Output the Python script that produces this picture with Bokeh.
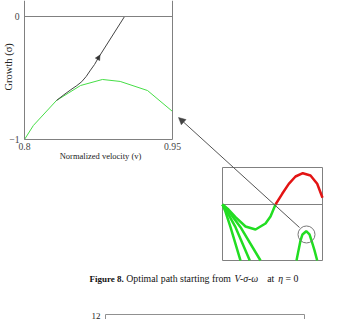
import math
from bokeh.plotting import figure
from bokeh.models import Range1d, LinearAxis, FixedTicker, Label, Arrow, NormalHead
from bokeh.embed import file_html
from bokeh.resources import INLINE

# ---------------- data (main chart) ----------------
v_ticks = [0.8, 0.95]
s_ticks = [-1, 0]
x_title = "Normalized velocity (v)"
y_title = "Growth  (\u03c3)"
green_v = [0.800, 0.809, 0.8324, 0.8446, 0.8568, 0.879, 0.897, 0.9247, 0.950]
green_s = [-1.000, -0.886, -0.683, -0.622, -0.561, -0.512, -0.528, -0.602, -0.772]
path_v = [0.8324, 0.8400, 0.8470, 0.8530, 0.8580, 0.8625, 0.8669, 0.8710, 0.8750, 0.9014]
path_s = [-0.683, -0.636, -0.595, -0.562, -0.530, -0.488, -0.436, -0.390, -0.334, 0.000]

# ---------------- data (inset, normalised units) ----------------
red_x = [0.53, 0.597, 0.663, 0.73, 0.803, 0.88, 0.947, 1.0]
red_y = [0.0, 0.289, 0.559, 0.757, 0.846, 0.784, 0.559, 0.181]
gmain_x = [0.0, 0.06, 0.13, 0.23, 0.33, 0.43, 0.48, 0.53]
gmain_y = [0.0, -0.135, -0.343, -0.595, -0.676, -0.514, -0.324, 0.0]
fan_x = [[0.0, 0.03, 0.08, 0.18], [0.0, 0.04, 0.13, 0.273], [0.0, 0.05, 0.18, 0.38]]
fan_y = [[0.0, -0.20, -0.613, -1.514], [0.0, -0.17, -0.613, -1.514], [0.0, -0.14, -0.613, -1.514]]
bump_x = [0.74, 0.76, 0.78, 0.80, 0.837, 0.87, 0.89, 0.92, 0.947]
bump_y = [-1.514, -1.24, -0.973, -0.81, -0.722, -0.81, -0.973, -1.24, -1.514]
circle_x = [0.84]
circle_y = [-0.81]

# ---------------- layout constants (pixels) ----------------
W, H = 340, 319
MX0, MX1 = 24, 172      # px of v = 0.8 / 0.95
MY0, MY1 = 16, 139      # px of s = 0 / -1
IX0, IX1 = 222, 322     # inset box px
IZERO, ITOP, IBOT = 204, 167, 260

V_MIN, V_MAX = 0.8, 0.95
S_MIN, S_MAX = -1.0, 0.0
sx = (MX1 - MX0) / (V_MAX - V_MIN)
sy = (MY1 - MY0) / (S_MAX - S_MIN)

isx = (IX1 - IX0) / 1.0
isy = (IZERO - ITOP) / 1.0
INS_YMIN = -(IBOT - IZERO) / isy

p = figure(width=W, height=H,
           x_range=Range1d(V_MIN - MX0 / sx, V_MIN + (W - MX0) / sx),
           y_range=Range1d(S_MAX - (H - MY0) / sy, S_MAX + MY0 / sy),
           output_backend="svg", toolbar_location=None,
           x_axis_location=None, y_axis_location=None,
           min_border=0, min_border_left=0, min_border_right=0,
           min_border_top=0, min_border_bottom=0,
           outline_line_color=None, background_fill_color="white",
           border_fill_color="white")
p.grid.visible = False

p.extra_x_ranges = {"ix": Range1d(-IX0 / isx, (W - IX0) / isx),
                    "px": Range1d(0, W)}
p.extra_y_ranges = {"iy": Range1d(-(H - IZERO) / isy, IZERO / isy),
                    "px": Range1d(H, 0)}

FONT = "Liberation Serif"
BORDER = "#808080"

def bare_axis(ax):
    ax.major_tick_out = 0
    ax.major_tick_in = 0
    ax.minor_tick_out = 0
    ax.minor_tick_in = 0
    ax.axis_line_color = BORDER
    ax.axis_line_width = 1
    return ax

# left axis (frame left edge)
yax = bare_axis(LinearAxis(fixed_location=V_MIN, bounds=(S_MIN, 0.2),
                           ticker=FixedTicker(ticks=s_ticks, minor_ticks=[]),
                           major_label_overrides={-1: "\u22121", 0: "0"}))
yax.major_label_text_font = FONT
yax.major_label_text_font_size = "9.7px"
yax.major_label_standoff = 5
p.add_layout(yax, "left")

# right edge
rax = bare_axis(LinearAxis(fixed_location=V_MAX, bounds=(S_MIN, 0.2),
                           ticker=FixedTicker(ticks=[], minor_ticks=[])))
rax.major_label_text_alpha = 0
p.add_layout(rax, "right")

# bottom axis
xax = bare_axis(LinearAxis(fixed_location=S_MIN, bounds=(V_MIN, V_MAX),
                           ticker=FixedTicker(ticks=v_ticks, minor_ticks=[]),
                           major_label_overrides={0.8: "0.8", 0.95: "0.95"}))
xax.major_label_text_font = FONT
xax.major_label_text_font_size = "9.7px"
xax.major_label_standoff = 3
p.add_layout(xax, "below")

# zero line
zax = bare_axis(LinearAxis(fixed_location=0, bounds=(V_MIN, V_MAX),
                           ticker=FixedTicker(ticks=[], minor_ticks=[])))
zax.major_label_text_alpha = 0
p.add_layout(zax, "below")

# axis titles (placed in pixel layout)
p.add_layout(Label(x=100, y=155, text=x_title, text_font=FONT, text_font_size="8.5px",
                   text_color="#222222", text_align="center", text_baseline="middle",
                   x_range_name="px", y_range_name="px"))
p.add_layout(Label(x=8, y=65, text=y_title, text_font=FONT, text_font_size="10.5px",
                   text_color="#222222", text_align="center", text_baseline="middle",
                   angle=math.pi / 2, x_range_name="px", y_range_name="px"))

# main curves
p.line(green_v, green_s, line_color="#46de46", line_width=1)
p.line(path_v, path_s, line_color="#444444", line_width=1)
p.add_layout(Arrow(end=NormalHead(size=5, fill_color="#333333", line_color="#333333", line_width=0.5),
                   x_start=path_v[-2], y_start=path_s[-2],
                   x_end=path_v[-2] + 0.0015, y_end=path_s[-2] + 0.021,
                   line_alpha=0))

# inset
p.quad(left=[0.0], right=[1.0], bottom=[INS_YMIN], top=[1.0],
       fill_color=None, line_color=BORDER, line_width=1,
       x_range_name="ix", y_range_name="iy")
p.segment(x0=[0.0], y0=[0.0], x1=[1.0], y1=[0.0], line_color=BORDER, line_width=1,
          x_range_name="ix", y_range_name="iy")
p.line(red_x, red_y, line_color="#e31414", line_width=2.5, x_range_name="ix", y_range_name="iy")
p.line(gmain_x, gmain_y, line_color="#22dd22", line_width=2.5, x_range_name="ix", y_range_name="iy")
p.multi_line(fan_x, fan_y, line_color="#22dd22", line_width=2.5, x_range_name="ix", y_range_name="iy")
p.line(bump_x, bump_y, line_color="#22dd22", line_width=2.5, x_range_name="ix", y_range_name="iy")
p.scatter(circle_x, circle_y, marker="circle", size=17, fill_color=None,
          line_color="#777777", line_width=1, x_range_name="ix", y_range_name="iy")

# connecting arrow (pixel layout)
p.add_layout(Arrow(end=NormalHead(size=7, fill_color="#444444", line_color="#444444", line_width=0.5),
                   x_start=299, y_start=227, x_end=178, y_end=117,
                   line_color="#555555", line_width=1,
                   x_range_name="px", y_range_name="px"))

# caption
cap = [("Figure 8.", 89, "bold", 9.0),
       ("Optimal path starting from", 125.7, "normal", 9.8),
       ("V-\u03c3-\u03c9", 234, "italic", 9.8),
       ("at", 266.7, "normal", 9.8),
       ("\u03b7", 277.7, "italic", 9.8),
       ("= 0", 285, "normal", 9.8)]
for txt, x, style, size in cap:
    p.add_layout(Label(x=x, y=278, text=txt, text_font=FONT, text_font_style=style,
                       text_font_size=f"{size}px", text_color="#111111",
                       text_baseline="middle", text_align="left",
                       x_range_name="px", y_range_name="px"))

# next figure fragment
p.add_layout(Label(x=100, y=315, text="12", text_font=FONT, text_font_size="9px",
                   text_color="#222222", text_baseline="middle", text_align="right",
                   x_range_name="px", y_range_name="px"))
p.line([105, 105, 304, 304], [330, 314, 314, 330], line_color="#909090", line_width=1,
       x_range_name="px", y_range_name="px")

open("out.html", "w").write(file_html(p, INLINE))
